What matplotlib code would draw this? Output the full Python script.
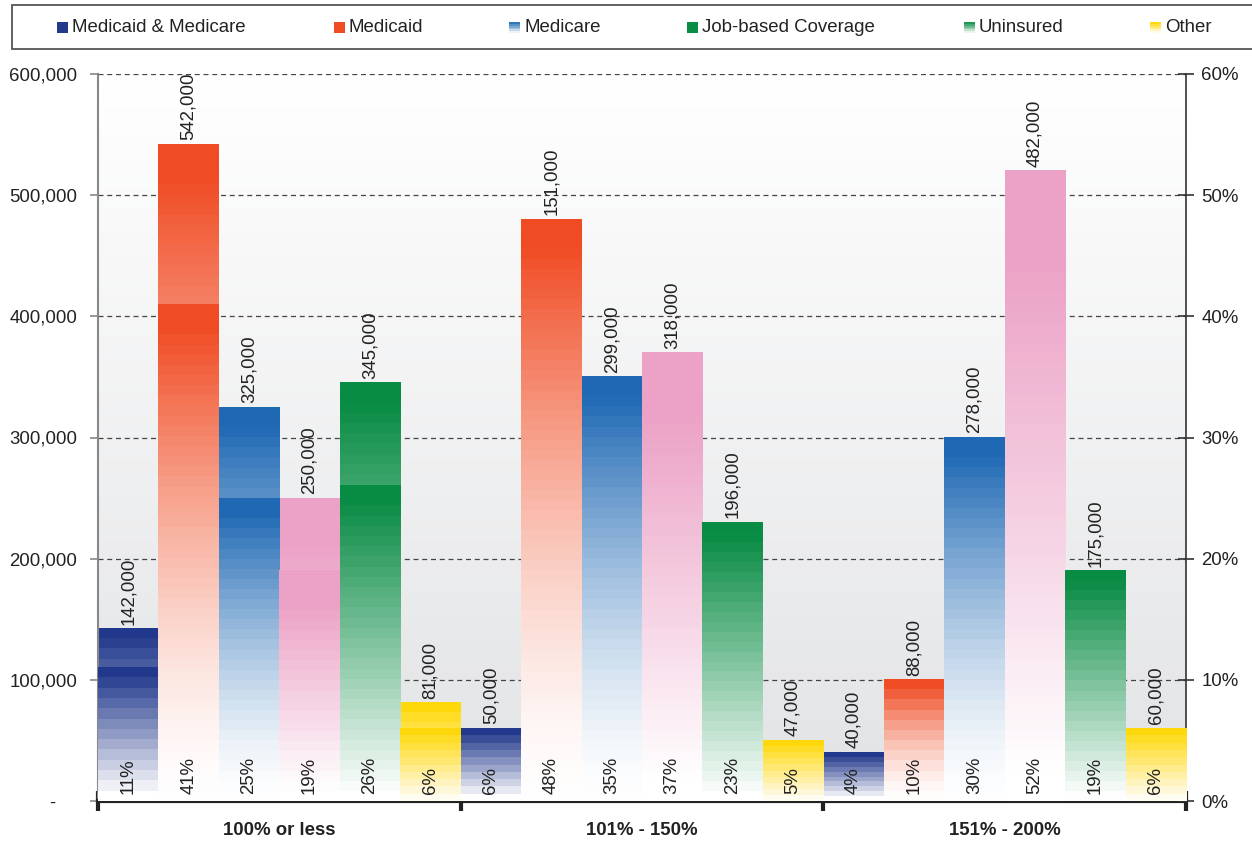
import numpy as np
import matplotlib.pyplot as plt
import matplotlib.colors as mcolors
from matplotlib.patches import Rectangle
from matplotlib.ticker import FixedLocator, FuncFormatter

plt.rcParams['font.family'] = ['Liberation Sans', 'DejaVu Sans']

groups = ['100% or less', '101% - 150%', '151% - 200%']
legend_names = ['Medicaid & Medicare', 'Medicaid', 'Medicare',
                'Job-based Coverage', 'Uninsured', 'Other']

# people per group (left axis)
medicaid_medicare_n = [142000, 50000, 40000]
medicaid_n = [542000, 151000, 88000]
medicare_n = [325000, 299000, 278000]
job_based_n = [250000, 318000, 482000]
uninsured_n = [345000, 196000, 175000]
other_n = [81000, 47000, 60000]

# share of the group (right axis)
medicaid_medicare_pct = [11, 6, 4]
medicaid_pct = [41, 48, 10]
medicare_pct = [25, 35, 30]
job_based_pct = [19, 37, 52]
uninsured_pct = [26, 23, 19]
other_pct = [6, 5, 6]

counts = [medicaid_medicare_n, medicaid_n, medicare_n, job_based_n, uninsured_n, other_n]
pcts = [medicaid_medicare_pct, medicaid_pct, medicare_pct, job_based_pct, uninsured_pct, other_pct]

colors = ['#22398c', '#f04c24', '#1f69b4', '#eca2c6', '#098c44', '#ffd600']
# (lo, hi, gamma): fraction of bar height where the fill fades out / reaches full colour
fades = [(0.05, 0.95, 1.0), (0.0, 0.95, 1.5), (0.0, 0.95, 1.5),
         (0.05, 0.85, 1.0), (0.02, 0.95, 1.0), (0.0, 1.0, 1.0)]
legend_colors = ['#22398c', '#f04c24', '#1f69b4', '#098c44', '#098c44', '#ffd600']
legend_grad = [False, False, True, False, True, True]

n_series = len(counts)
n_groups = len(groups)
ymax = 600000
pmax = 60
fs = 13.4


def gradient(color, n, lo, hi, gamma=1.0):
    c = np.array(mcolors.to_rgb(color))
    f = (np.arange(n) + 0.5) / n
    mix = np.clip((f - lo) / (hi - lo), 0, 1) ** gamma
    rgb = 1 - (1 - c) * mix[:, None]
    return rgb[:, None, :]


def fill_gradient(axis, bars, color, fade, top, zorder):
    for rect in bars:
        x0, w, h = rect.get_x(), rect.get_width(), rect.get_height()
        n = max(10, int(round(h / top * 72)))
        axis.imshow(gradient(color, n, *fade), extent=(x0, x0 + w, 0, h),
                    origin='lower', aspect='auto', interpolation='nearest',
                    zorder=zorder)


fig = plt.figure(figsize=(12.52, 8.42), dpi=100)
W, H = 1252, 842
ax = fig.add_axes([98 / W, 41 / H, 1088 / W, 727 / H])
ax2 = ax.twinx()

# background shading of the plot area
bg = np.linspace(1.0, 0.0, 64)[:, None]
bg_rgb = np.array([1, 1, 1]) * bg[..., None] + np.array(mcolors.to_rgb('#e2e3e5')) * (1 - bg[..., None])
ax.imshow(bg_rgb, extent=(0, n_series * n_groups, 0, ymax), origin='upper',
          aspect='auto', zorder=0)

for s in range(n_series):
    xs = [g * n_series + s + 0.5 for g in range(n_groups)]
    nb = ax.bar(xs, counts[s], width=1.0, color='none', zorder=2)
    fill_gradient(ax, nb, colors[s], fades[s], ymax, 2)
    pb = ax2.bar(xs, pcts[s], width=1.0, color='none', zorder=3)
    fill_gradient(ax2, pb, colors[s], fades[s], pmax, 3)
    for x, n, p in zip(xs, counts[s], pcts[s]):
        ax2.annotate(f'{n:,}', (x, max(n * pmax / ymax, p)), xytext=(0, 3),
                     textcoords='offset points', rotation=90, ha='center',
                     va='bottom', fontsize=fs, color='#222222', zorder=5)
        ax2.annotate(f'{p}%', (x, 0), xytext=(0, 5), textcoords='offset points',
                     rotation=90, ha='center', va='bottom', fontsize=fs,
                     color='#222222', zorder=5)

ax.set_xlim(0, n_series * n_groups)
ax.set_ylim(0, ymax)
ax2.set_ylim(0, pmax)

# grid and left axis
ax.set_axisbelow(True)
ax.yaxis.set_major_locator(FixedLocator(np.arange(0, ymax + 1, 100000)))
ax.yaxis.set_major_formatter(FuncFormatter(lambda v, _: '-    ' if v == 0 else f'{int(v):,}'))
ax.grid(axis='y', linestyle=(0, (4, 3)), color='#444444', linewidth=0.9, zorder=0.5)
ax.tick_params(axis='y', direction='out', length=6, width=1.2, color='#888888',
               labelsize=fs, labelcolor='#222222', pad=9)

# group boundaries and labels on the x axis
ax.xaxis.set_major_locator(FixedLocator([g * n_series for g in range(n_groups + 1)]))
ax.xaxis.set_minor_locator(FixedLocator([g * n_series + n_series / 2 for g in range(n_groups)]))
ax.xaxis.set_major_formatter(FuncFormatter(lambda v, _: ''))
ax.xaxis.set_minor_formatter(FuncFormatter(lambda v, _: groups[int(v // n_series)]))
ax.tick_params(axis='x', which='major', direction='inout', length=14, width=3, color='#222222')
ax.tick_params(axis='x', which='minor', length=0, pad=15, labelsize=fs, labelcolor='#222222')
for lbl in ax.xaxis.get_minorticklabels():
    lbl.set_fontweight('bold')

for side in ['top', 'right']:
    ax.spines[side].set_visible(False)
ax.spines['left'].set_color('#888888')
ax.spines['left'].set_linewidth(1.5)
ax.spines['bottom'].set_color('#222222')
ax.spines['bottom'].set_linewidth(3)
ax.spines['bottom'].set_zorder(6)

# right axis in percent
for side in ['top', 'left', 'bottom']:
    ax2.spines[side].set_visible(False)
ax2.spines['right'].set_color('#333333')
ax2.spines['right'].set_linewidth(1.2)
ax2.yaxis.set_major_locator(FixedLocator(np.arange(0, pmax + 1, 10)))
ax2.yaxis.set_major_formatter(FuncFormatter(lambda v, _: f'{int(v)}%'))
ax2.tick_params(axis='y', direction='inout', length=12, width=1.2, color='#333333',
                labelsize=fs, labelcolor='#222222', pad=5)

# legend strip across the top
fig.add_artist(Rectangle((12 / W, 1 - 49 / H), 1260 / W, 44 / H, transform=fig.transFigure,
                         facecolor='white', edgecolor='#555555', linewidth=1.3))
marker_x = [57, 334, 509, 687, 964, 1150]
for mx, name, col, grad in zip(marker_x, legend_names, legend_colors, legend_grad):
    size = 11
    if grad:
        steps = 6
        rgb = gradient(col, steps, 0.0, 1.0)[:, 0, :]
        for k in range(steps):
            fig.add_artist(Rectangle((mx / W, 1 - (33 - k * size / steps) / H),
                                     size / W, size / steps / H,
                                     transform=fig.transFigure, facecolor=rgb[k],
                                     edgecolor='none'))
    else:
        fig.add_artist(Rectangle((mx / W, 1 - 33 / H), size / W, size / H,
                                 transform=fig.transFigure, facecolor=col, edgecolor='none'))
    fig.text((mx + 15) / W, 1 - 28 / H, name, fontsize=fs, color='#222222',
             ha='left', va='center')

fig.savefig('out.png', dpi=100)
